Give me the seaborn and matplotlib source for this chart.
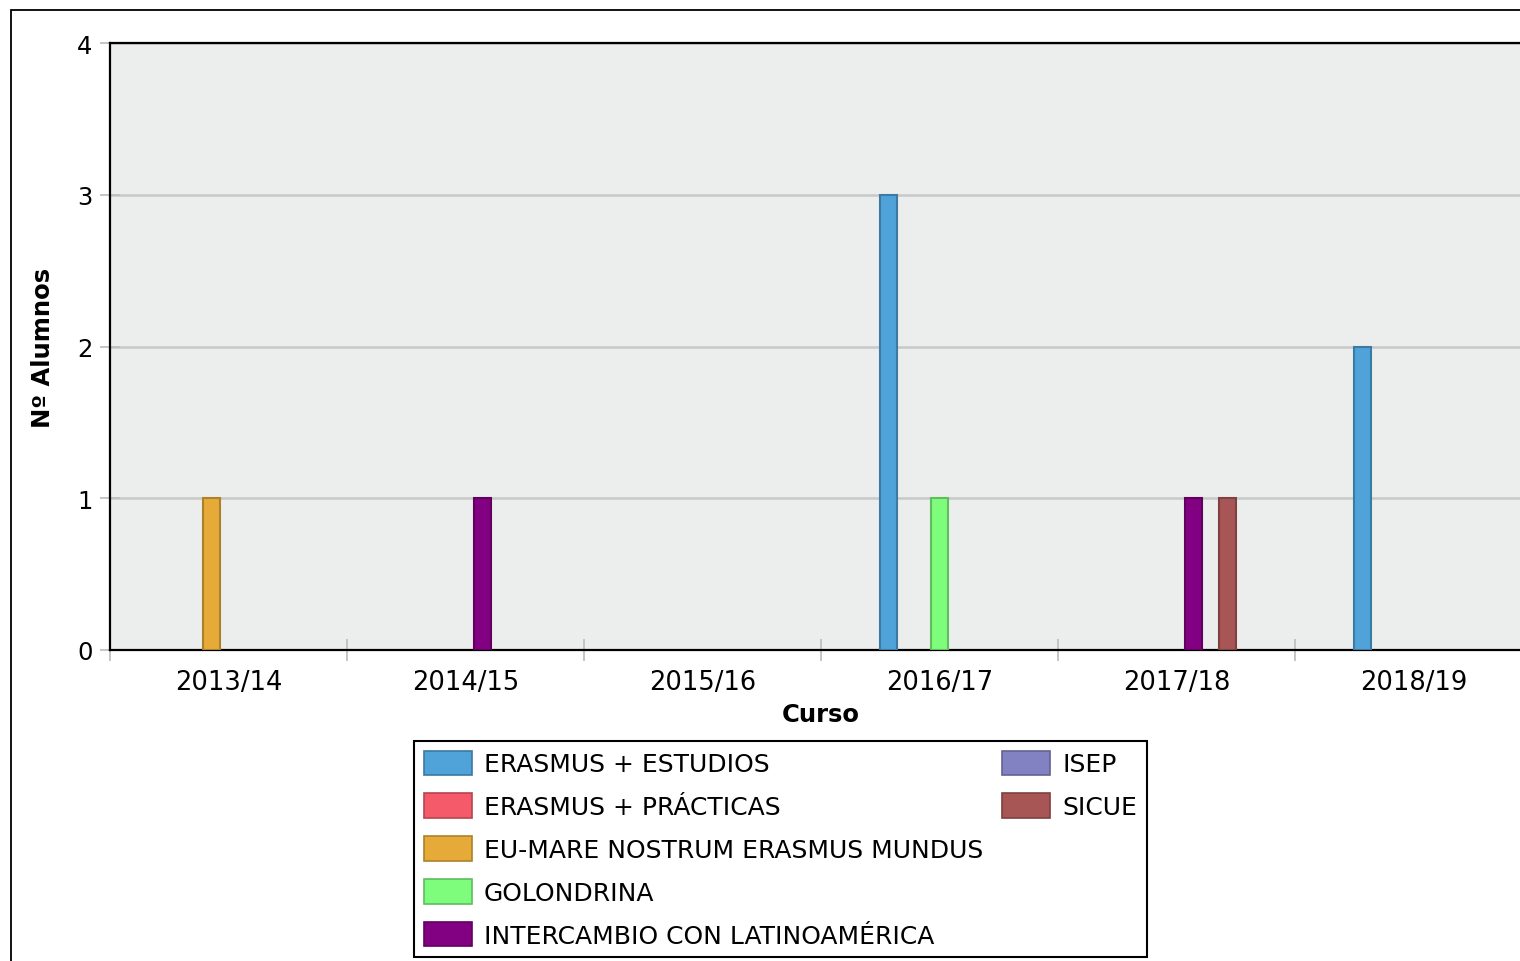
import matplotlib
matplotlib.use("Agg")
import matplotlib.pyplot as plt
import matplotlib.colors as mcolors
from matplotlib.patches import Patch, Rectangle
import seaborn as sns
import pandas as pd

cursos = ["2013/14", "2014/15", "2015/16", "2016/17", "2017/18", "2018/19"]
programas = [
    "ERASMUS + ESTUDIOS",
    "ERASMUS + PRÁCTICAS",
    "EU-MARE NOSTRUM ERASMUS MUNDUS",
    "GOLONDRINA",
    "INTERCAMBIO CON LATINOAMÉRICA",
    "ISEP",
    "SICUE",
]
colores = ["#4fa3d9", "#f55a6b", "#e6aa38", "#7efc7c", "#820082", "#8282c2", "#a85555"]

erasmus_estudios = [0, 0, 0, 3, 0, 2]
erasmus_practicas = [0, 0, 0, 0, 0, 0]
eu_mare = [1, 0, 0, 0, 0, 0]
golondrina = [0, 0, 0, 1, 0, 0]
intercambio = [0, 1, 0, 0, 1, 0]
isep = [0, 0, 0, 0, 0, 0]
sicue = [0, 0, 0, 0, 1, 0]

series = [erasmus_estudios, erasmus_practicas, eu_mare, golondrina, intercambio, isep, sicue]

rows = []
for prog, vals in zip(programas, series):
    for c, v in zip(cursos, vals):
        if v > 0:
            rows.append({"Curso": c, "Programa": prog, "Alumnos": v})
df = pd.DataFrame(rows)

sns.set_theme(style="white")
plt.rcParams["font.family"] = ["DejaVu Sans"]
plt.rcParams["text.color"] = "black"
plt.rcParams["axes.labelcolor"] = "black"

fig = plt.figure(figsize=(15.2, 9.62), dpi=100)
ax = fig.add_axes([110 / 1520, 311 / 962, 1422 / 1520, 607 / 962])
ax.set_facecolor("#eceeed")

palette = dict(zip(programas, colores))
sns.barplot(data=df, x="Curso", y="Alumnos", hue="Programa", order=cursos,
            hue_order=programas, palette=palette, width=0.5, dodge=True,
            saturation=1, legend=False, ax=ax, linewidth=1.5, zorder=3)

for p in ax.patches:
    fc = mcolors.to_rgb(p.get_facecolor())
    p.set_edgecolor(tuple(c * 0.75 for c in fc))

ax.set_xlim(-0.5, len(cursos) - 0.5)
ax.set_ylim(0, 4)
ax.set_yticks([0, 1, 2, 3, 4])
ax.grid(axis="y", color="#c8c8c8", linewidth=1.8, zorder=0)
ax.set_axisbelow(True)

ax.set_xticks(range(len(cursos)))
ax.set_xticklabels(cursos)
ax.set_xticks([i - 0.5 for i in range(len(cursos) + 1)], minor=True)
ax.tick_params(axis="x", which="major", length=0, labelsize=18.5, pad=14, colors="black")
ax.tick_params(axis="x", which="minor", direction="inout", length=16, width=1.3, color="#c0c0c0")
ax.tick_params(axis="y", which="major", direction="inout", length=15, width=1.3, color="#c0c0c0",
               labelsize=17.5, pad=5, labelcolor="black")
ax.yaxis.set_ticks_position("left")
ax.xaxis.set_ticks_position("bottom")

for s in ["left", "bottom", "top"]:
    ax.spines[s].set_visible(True)
    ax.spines[s].set_color("black")
    ax.spines[s].set_linewidth(1.6)
ax.spines["right"].set_visible(False)

ax.set_xlabel("Curso", fontsize=17.5, fontweight="bold", labelpad=5)
ax.set_ylabel("Nº Alumnos", fontsize=17.5, fontweight="bold", labelpad=16)

handles = [Patch(facecolor=c, edgecolor=tuple(x * 0.75 for x in mcolors.to_rgb(c)), linewidth=1.2)
           for c in colores]
labels = list(programas)
blank = Patch(facecolor="none", edgecolor="none")
handles = handles + [blank] * 3
labels = labels + [""] * 3
leg = fig.legend(handles, labels, loc="upper left", bbox_to_anchor=(414 / 1520, 1 - 742 / 962),
                 bbox_transform=fig.transFigure, borderaxespad=0, ncol=2, fontsize=18, frameon=True,
                 fancybox=False, edgecolor="black", framealpha=1, borderpad=0.38,
                 handlelength=1.92, handleheight=1.12, handletextpad=0.5,
                 labelspacing=0.69, columnspacing=0.75)
leg.get_frame().set_linewidth(1.5)

fig.add_artist(Rectangle((10.5 / 1520, -0.05), 1.2, 1.05 - 11 / 962, transform=fig.transFigure,
                         fill=False, edgecolor="black", linewidth=1.3))

fig.savefig("out.png", dpi=100)
